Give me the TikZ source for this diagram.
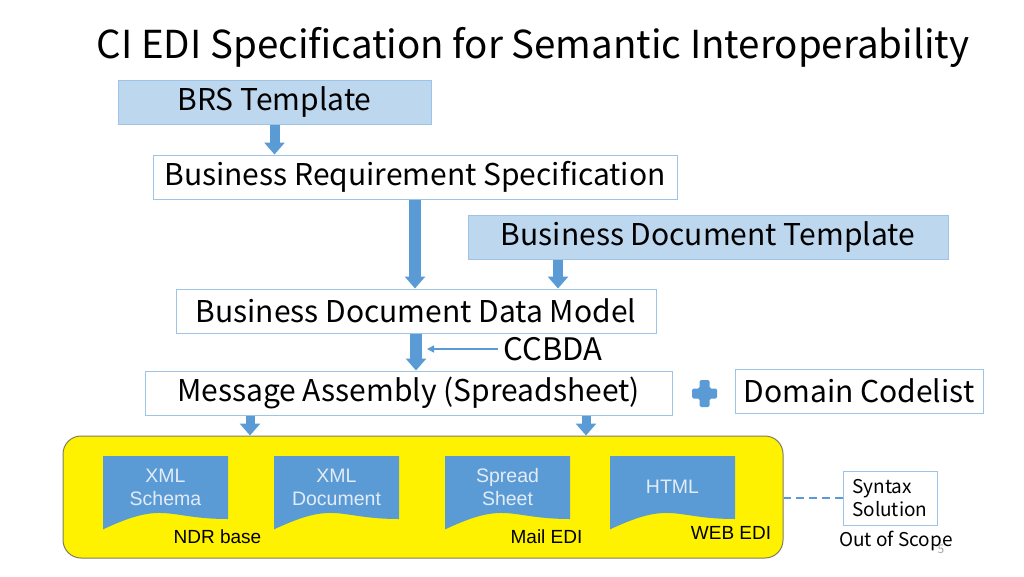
\documentclass[tikz,border=0pt]{standalone}
\usepackage{fontspec}
\setmainfont{Noto Sans CJK JP}
\newfontfamily\docfont{Liberation Sans}
\usetikzlibrary{arrows.meta}
\definecolor{arrblue}{HTML}{5B9BD5}
\definecolor{lightfill}{HTML}{BDD7EE}
\definecolor{boxline}{HTML}{9DC3E6}
\definecolor{doctext}{HTML}{E2ECF7}
\definecolor{yellowline}{HTML}{7F7F5A}
\tikzset{
  wbox/.style={draw=boxline, line width=1pt, fill=white, inner sep=0pt, font=\fontsize{30}{34}\selectfont},
  tbox/.style={wbox, fill=lightfill},
  blockarrow/.style={draw=arrblue, line width=#1, -{Triangle[width=20pt,length=12pt]}},
  blockarrow/.default=10pt,
  doclabel/.style={font=\docfont\fontsize{19.5}{23}\selectfont, text=doctext, align=center},
  sublabel/.style={font=\docfont\fontsize{19}{22}\selectfont, text=black},
}
\newcommand{\docpath}[2]{% #1 left x, #2 top y
  \fill[arrblue] (#1,#2) -- ++(125,0) -- ++(0,63) .. controls ++(-62.5,0) and ++(62.5,-29.4) .. ++(-125,10.4) -- cycle;}
\begin{document}
\begin{tikzpicture}[x=1pt,y=-1pt]
\useasboundingbox[fill=white] (0,0) rectangle (1024,576);

\node[font=\fontsize{38.5}{42}\selectfont] (title) at (533,47) {CI EDI Specification for Semantic Interoperability};

\node[tbox, minimum width=313pt, minimum height=44pt] (brs) at (274.5,102) {BRS Template};
\node[wbox, minimum width=524pt, minimum height=44pt] (brspec) at (415,177) {Business Requirement Specification};
\node[tbox, minimum width=480pt, minimum height=44pt] (bdt) at (708,237) {Business Document Template};
\node[wbox, minimum width=480pt, minimum height=44pt] (bddm) at (416,311) {Business Document Data Model};
\node[wbox, minimum width=527pt, minimum height=44pt] (ma) at (408.5,393) {Message Assembly (Spreadsheet)};
\node[wbox, minimum width=248pt, minimum height=44pt] (dc) at (859,391) {Domain Codelist};
\node[font=\fontsize{31}{34}\selectfont, inner sep=0pt] (ccbda) at (553,349) {CCBDA};

% block arrows
\draw[blockarrow] (brs.south) -- (brs.south |- brspec.north);
\draw[blockarrow=12pt] (brspec.south) -- (brspec.south |- bddm.north);
\draw[blockarrow] ([xshift=-150pt]bdt.south) -- ([xshift=-150pt]bdt.south |- bddm.north);
\draw[blockarrow=12pt] (bddm.south) -- (bddm.south |- ma.north);
\coordinate (ccend) at (427,349);
\draw[arrblue, line width=1.5pt, -{Triangle[width=7pt,length=7pt]}] ([xshift=-5pt]ccbda.west) -- (ccend);

% plus sign
\fill[arrblue, rounded corners=1.5pt] (699.5,380) -- (709.5,380) -- (709.5,388.5) -- (717,388.5) -- (717,398.5) -- (709.5,398.5) -- (709.5,407) -- (699.5,407) -- (699.5,398.5) -- (692,398.5) -- (692,388.5) -- (699.5,388.5) -- cycle;

% yellow container
\node[draw=yellowline, line width=1pt, fill=yellow, rounded corners=18pt, minimum width=720pt, minimum height=122pt, inner sep=0pt] (ybox) at (423,497) {};
\draw[blockarrow=9pt] ([xshift=-158.5pt]ma.south) -- ([xshift=-158.5pt]ma.south |- ybox.north);
\draw[blockarrow=9pt] ([xshift=177.5pt]ma.south) -- ([xshift=177.5pt]ma.south |- ybox.north);

\docpath{103}{456}
\docpath{274}{456}
\docpath{445}{456}
\docpath{610}{456}
\node[doclabel] (d1) at (165.5,487) {XML\\Schema};
\node[doclabel] (d2) at (336.5,487) {XML\\Document};
\node[doclabel] (d3) at (507.5,487) {Spread\\Sheet};
\node[doclabel] (d4) at (672.5,487) {HTML};
\node[sublabel] (l1) at (217.5,537) {NDR base};
\node[sublabel] (l2) at (546.5,537) {Mail EDI};
\node[sublabel] (l3) at (731,533) {WEB EDI};

% syntax solution
\node[draw=boxline, line width=1pt, fill=white, minimum width=94pt, minimum height=54pt, inner sep=0pt] (syn) at (890,498) {};
\node[font=\fontsize{19}{23}\selectfont, align=left, anchor=west, inner sep=0pt] (syntxt) at (852,498) {Syntax\\Solution};
\draw[arrblue, line width=2pt, dash pattern=on 8pt off 5pt] (syn.west) -- (syn.west -| ybox.east);
\node[font=\fontsize{19}{23}\selectfont, inner sep=0pt] (oos) at (896,541) {Out of Scope};
\node[font=\fontsize{12}{14}\selectfont, text=gray!70, inner sep=0pt] (pg) at (941,549) {5};
\end{tikzpicture}
\end{document}
